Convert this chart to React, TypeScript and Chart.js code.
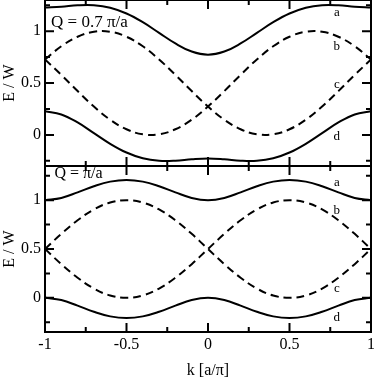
import React, { useEffect, useRef } from "react";
import { Chart, registerables } from "chart.js";

Chart.register(...registerables);

// wave vector k [a/π]
const kValues = [-1, -0.9, -0.8, -0.7, -0.6, -0.5, -0.4, -0.3, -0.2, -0.1, 0, 0.1, 0.2, 0.3, 0.4, 0.5, 0.6, 0.7, 0.8, 0.9, 1];

// Upper panel, Q = 0.7 π/a
const topBandA = [1.227, 1.235, 1.249, 1.25, 1.226, 1.17, 1.086, 0.983, 0.881, 0.803, 0.773, 0.803, 0.881, 0.983, 1.086, 1.17, 1.226, 1.25, 1.249, 1.235, 1.227];
const topBandB = [0.727, 0.578, 0.422, 0.273, 0.146, 0.054, 0.006, 0.006, 0.054, 0.146, 0.273, 0.422, 0.578, 0.727, 0.854, 0.946, 0.994, 0.994, 0.946, 0.854, 0.727];
const topBandC = [0.727, 0.854, 0.946, 0.994, 0.994, 0.946, 0.854, 0.727, 0.578, 0.422, 0.273, 0.146, 0.054, 0.006, 0.006, 0.054, 0.146, 0.273, 0.422, 0.578, 0.727];
const topBandD = [0.227, 0.197, 0.12, 0.017, -0.086, -0.17, -0.226, -0.25, -0.249, -0.235, -0.227, -0.235, -0.249, -0.25, -0.226, -0.17, -0.086, 0.017, 0.12, 0.197, 0.227];

// Lower panel, Q = π/a
const botBandA = [1.0, 1.023, 1.08, 1.143, 1.19, 1.207, 1.19, 1.143, 1.08, 1.023, 1.0, 1.023, 1.08, 1.143, 1.19, 1.207, 1.19, 1.143, 1.08, 1.023, 1.0];
const botBandB = [0.5, 0.345, 0.206, 0.095, 0.024, 0.0, 0.024, 0.095, 0.206, 0.345, 0.5, 0.655, 0.794, 0.905, 0.976, 1.0, 0.976, 0.905, 0.794, 0.655, 0.5];
const botBandC = [0.5, 0.655, 0.794, 0.905, 0.976, 1.0, 0.976, 0.905, 0.794, 0.655, 0.5, 0.345, 0.206, 0.095, 0.024, 0.0, 0.024, 0.095, 0.206, 0.345, 0.5];
const botBandD = [0.0, -0.023, -0.08, -0.143, -0.19, -0.207, -0.19, -0.143, -0.08, -0.023, 0.0, -0.023, -0.08, -0.143, -0.19, -0.207, -0.19, -0.143, -0.08, -0.023, 0.0];

// ticks
const xTickValues = [-1, -0.5, 0, 0.5, 1];
const xTickLabels = ["-1", "-0.5", "0", "0.5", "1"];
const xMinorTicks = [-0.75, -0.25, 0.25, 0.75];
const yTickValues = [0, 0.5, 1];
const yTickLabels = ["0", "0.5", "1"];
const yMinorTicks = [-0.25, 0.25, 0.75, 1.25];

const bandNames = ["a", "b", "c", "d"];
const topPanelTitle = "Q = 0.7 π/a";
const botPanelTitle = "Q = π/a";
const xTitle = "k [a/π]";
const yTitle = "E / W";

const FONT = '"Liberation Serif", "Times New Roman", serif';

const framePlugin = {
  id: "frame",
  afterDatasetsDraw(chart: any, _args: any, opts: any) {
    const { ctx, chartArea: a, scales } = chart;
    const x = scales.x;
    const y = scales.y;
    ctx.save();
    ctx.strokeStyle = "#000";
    ctx.lineWidth = 2;
    ctx.beginPath();
    for (const v of [...xTickValues, ...xMinorTicks]) {
      const len = xTickValues.includes(v) ? 9 : 5;
      const px = x.getPixelForValue(v);
      ctx.moveTo(px, a.bottom);
      ctx.lineTo(px, a.bottom - len);
      ctx.moveTo(px, a.top);
      ctx.lineTo(px, a.top + len);
    }
    for (const v of [...yTickValues, ...yMinorTicks]) {
      if (v < y.min || v > y.max) continue;
      const len = yTickValues.includes(v) ? 9 : 5;
      const py = y.getPixelForValue(v);
      ctx.moveTo(a.left, py);
      ctx.lineTo(a.left + len, py);
      ctx.moveTo(a.right, py);
      ctx.lineTo(a.right - len, py);
    }
    ctx.stroke();
    ctx.strokeRect(a.left, a.top, a.right - a.left, a.bottom - a.top);

    ctx.fillStyle = "#000";
    ctx.font = `${opts.titleSize}px ${FONT}`;
    ctx.textAlign = "left";
    ctx.textBaseline = "alphabetic";
    ctx.fillText(opts.title, x.getPixelForValue(opts.titleK), y.getPixelForValue(opts.titleE));

    ctx.font = `13px ${FONT}`;
    ctx.textAlign = "center";
    opts.labelE.forEach((e: number, i: number) => {
      ctx.fillText(bandNames[i], x.getPixelForValue(opts.labelK), y.getPixelForValue(e));
    });
    ctx.restore();
  },
};

function series(values: number[], dashed: boolean) {
  return {
    data: kValues.map((k, i) => ({ x: k, y: values[i] })),
    borderColor: "#000",
    borderWidth: 2,
    borderDash: dashed ? [8, 5] : [],
    pointRadius: 0,
    tension: 0.4,
    fill: false,
  };
}

function noPad(s: any) {
  s.paddingTop = 0;
  s.paddingBottom = 0;
  s.paddingLeft = 0;
  s.paddingRight = 0;
}

function makeChart(canvas: HTMLCanvasElement, panel: any, showX: boolean) {
  return new Chart(canvas, {
    type: "line",
    data: {
      datasets: [
        series(panel.a, false),
        series(panel.b, true),
        series(panel.c, true),
        series(panel.d, false),
      ],
    },
    plugins: [framePlugin],
    options: {
      animation: false,
      responsive: false,
      devicePixelRatio: 1,
      layout: { padding: { left: 0, right: 3, top: showX ? 10 : 0, bottom: 0 } },
      plugins: {
        legend: { display: false },
        tooltip: { enabled: false },
        frame: {
          title: panel.title,
          titleSize: panel.titleSize,
          titleK: panel.titleK,
          titleE: panel.titleE,
          labelK: 0.79,
          labelE: panel.labelE,
        },
      } as any,
      scales: {
        x: {
          type: "linear",
          min: -1,
          max: 1,
          display: showX,
          grid: { display: false, drawTicks: false },
          border: { display: false },
          afterBuildTicks: (s: any) => {
            s.ticks = xTickValues.map((v) => ({ value: v }));
          },
          afterFit: (s: any) => {
            s.height = showX ? 48 : 0;
            noPad(s);
          },
          ticks: {
            padding: 3,
            autoSkip: false,
            maxRotation: 0,
            color: "#000",
            font: { family: FONT, size: 16 },
            callback: (v: any) => xTickLabels[xTickValues.indexOf(Number(v))] ?? "",
          },
          title: {
            display: true,
            text: xTitle,
            color: "#000",
            padding: 0,
            font: { family: FONT, size: 16 },
          },
        },
        y: {
          type: "linear",
          min: panel.min,
          max: panel.max,
          grid: { display: false, drawTicks: false },
          border: { display: false },
          afterBuildTicks: (s: any) => {
            s.ticks = yTickValues.map((v) => ({ value: v }));
          },
          afterFit: (s: any) => {
            s.width = 45;
            noPad(s);
          },
          ticks: {
            padding: 4,
            autoSkip: false,
            color: "#000",
            font: { family: FONT, size: 16 },
            callback: (v: any) => yTickLabels[yTickValues.indexOf(Number(v))] ?? "",
          },
          title: {
            display: true,
            text: yTitle,
            color: "#000",
            padding: 0,
            font: { family: FONT, size: 16 },
          },
        },
      },
    } as any,
  });
}

export default function App() {
  const topRef = useRef<HTMLCanvasElement>(null);
  const botRef = useRef<HTMLCanvasElement>(null);

  useEffect(() => {
    const top = makeChart(
      topRef.current!,
      {
        a: topBandA, b: topBandB, c: topBandC, d: topBandD,
        min: -0.3, max: 1.3,
        title: topPanelTitle, titleSize: 17, titleK: -0.963, titleE: 1.043,
        labelE: [1.143, 0.818, 0.453, -0.049],
      },
      false
    );
    const bot = makeChart(
      botRef.current!,
      {
        a: botBandA, b: botBandB, c: botBandC, d: botBandD,
        min: -0.35, max: 1.35,
        title: botPanelTitle, titleSize: 16, titleK: -0.942, titleE: 1.225,
        labelE: [1.146, 0.86, 0.06, -0.238],
      },
      true
    );
    return () => {
      top.destroy();
      bot.destroy();
    };
  }, []);

  return (
    <div style={{ position: "fixed", left: 0, top: 0, width: 374, height: 380, background: "#fff" }}>
      <canvas ref={topRef} width={374} height={166} style={{ position: "absolute", left: 0, top: 0, width: 374, height: 166 }} />
      <canvas ref={botRef} width={374} height={224} style={{ position: "absolute", left: 0, top: 156, width: 374, height: 224 }} />
    </div>
  );
}
